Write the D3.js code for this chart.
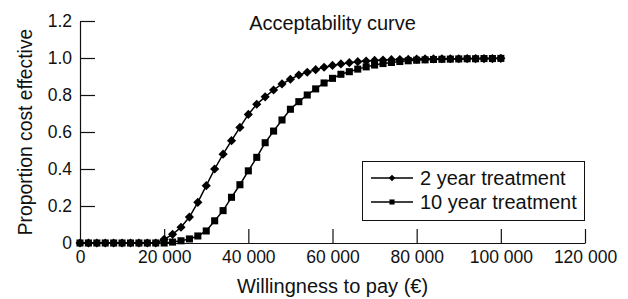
<!DOCTYPE html>
<html>
<head>
<meta charset="utf-8">
<script src="https://cdn.jsdelivr.net/npm/d3@7"></script>
<style>
  body { margin: 0; background: #fff; }
  text { font-family: "Liberation Sans", Arial, sans-serif; fill: #111; }
  .axis path, .axis line { stroke: #111; stroke-width: 1.2; }
</style>
</head>
<body>
<script>
(function () {

    //willingness to pay values (euro)
    var wtp = [0, 2000, 4000, 6000, 8000, 10000, 12000, 14000, 16000, 18000,
        20000, 22000, 24000, 26000, 28000, 30000, 32000, 34000, 36000, 38000,
        40000, 42000, 44000, 46000, 48000, 50000, 52000, 54000, 56000, 58000,
        60000, 62000, 64000, 66000, 68000, 70000, 72000, 74000, 76000, 78000,
        80000, 82000, 84000, 86000, 88000, 90000, 92000, 94000, 96000, 98000, 100000];

    //proportion cost effective, 2 year treatment
    var twoYear = [0, 0, 0, 0, 0, 0, 0, 0, 0, 0,
        0.02, 0.047, 0.085, 0.14, 0.22, 0.31, 0.40, 0.48, 0.553, 0.625,
        0.695, 0.75, 0.79, 0.827, 0.86, 0.885, 0.908, 0.923, 0.937, 0.95,
        0.96, 0.968, 0.975, 0.98, 0.984, 0.987, 0.989, 0.991, 0.992, 0.993,
        0.994, 0.995, 0.995, 0.996, 0.996, 0.996, 0.997, 0.997, 0.997, 0.997, 0.998];

    //proportion cost effective, 10 year treatment
    var tenYear = [0, 0, 0, 0, 0, 0, 0, 0, 0, 0,
        0, 0.005, 0.012, 0.022, 0.038, 0.065, 0.12, 0.175, 0.247, 0.315,
        0.39, 0.463, 0.542, 0.605, 0.665, 0.723, 0.764, 0.80, 0.833, 0.865,
        0.89, 0.912, 0.926, 0.94, 0.952, 0.962, 0.97, 0.976, 0.981, 0.985,
        0.988, 0.99, 0.992, 0.993, 0.994, 0.995, 0.996, 0.996, 0.997, 0.997, 0.998];

    var seriesNames = ["2 year treatment", "10 year treatment"];
    var xTicks = [0, 20000, 40000, 60000, 80000, 100000, 120000];
    var yTicks = [0, 0.2, 0.4, 0.6, 0.8, 1.0, 1.2];

    var width = 628, height = 299;
    var left = 80, right = 585, top = 21, bottom = 243;

    var svg = d3.select("body").append("svg")
        .attr("width", width)
        .attr("height", height);

    var x = d3.scaleLinear().domain([0, 120000]).range([left, right]);
    var y = d3.scaleLinear().domain([0, 1.2]).range([bottom, top]);

    var fmtX = function (d) { return d === 0 ? "0" : d3.format(",")(d).replace(/,/g, " "); };
    var fmtY = function (d) { return d === 0 ? "0" : d3.format(".1f")(d); };

    //x axis, ticks pointing up into the plot
    var xAxis = svg.append("g")
        .attr("class", "axis")
        .attr("transform", "translate(0," + bottom + ")")
        .call(d3.axisBottom(x).tickValues(xTicks).tickSizeInner(-14).tickSizeOuter(0).tickPadding(8).tickFormat(fmtX));
    xAxis.selectAll("text").style("font-size", "17.5px").attr("fill", "#111");
    xAxis.select(".tick line").remove();

    //y axis, ticks pointing right into the plot
    var yAxis = svg.append("g")
        .attr("class", "axis")
        .attr("transform", "translate(" + left + ",0)")
        .call(d3.axisLeft(y).tickValues(yTicks).tickSizeInner(-15).tickSizeOuter(0).tickPadding(8).tickFormat(fmtY));
    yAxis.selectAll("text").style("font-size", "17.5px").attr("fill", "#111");

    //titles
    svg.append("text")
        .attr("x", (left + right) / 2).attr("y", 30)
        .attr("text-anchor", "middle")
        .style("font-size", "20px")
        .text("Acceptability curve");

    svg.append("text")
        .attr("x", (left + right) / 2).attr("y", 293)
        .attr("text-anchor", "middle")
        .style("font-size", "20px")
        .text("Willingness to pay (\u20ac)");

    svg.append("text")
        .attr("transform", "translate(32," + (top + bottom) / 2 + ") rotate(-90)")
        .attr("text-anchor", "middle")
        .style("font-size", "19.3px")
        .text("Proportion cost effective");

    var line = d3.line()
        .x(function (d, i) { return x(wtp[i]); })
        .y(function (d) { return y(d); });

    var diamond = d3.symbol().type(d3.symbolSquare).size(42);
    var square = d3.symbol().type(d3.symbolSquare).size(50);

    //10 year series
    svg.append("path").datum(tenYear)
        .attr("fill", "none").attr("stroke", "#000").attr("stroke-width", 1.5)
        .attr("d", line);
    svg.selectAll(".sq").data(tenYear).enter().append("path")
        .attr("class", "sq")
        .attr("transform", function (d, i) { return "translate(" + x(wtp[i]) + "," + y(d) + ")"; })
        .attr("d", square)
        .attr("fill", "#000");

    //2 year series
    svg.append("path").datum(twoYear)
        .attr("fill", "none").attr("stroke", "#000").attr("stroke-width", 1.5)
        .attr("d", line);
    svg.selectAll(".dm").data(twoYear).enter().append("path")
        .attr("class", "dm")
        .attr("transform", function (d, i) { return "translate(" + x(wtp[i]) + "," + y(d) + ") rotate(45)"; })
        .attr("d", diamond)
        .attr("fill", "#000");

    //legend
    var legend = svg.append("g");
    legend.append("rect")
        .attr("x", 362.5).attr("y", 161.5).attr("width", 222).attr("height", 59)
        .attr("fill", "#fff").attr("stroke", "#111").attr("stroke-width", 1);

    var rows = legend.selectAll(".row").data(seriesNames).enter().append("g")
        .attr("class", "row")
        .attr("transform", function (d, i) { return "translate(0," + (178 + i * 24) + ")"; });
    rows.append("line")
        .attr("x1", 371).attr("x2", 413)
        .attr("stroke", "#000").attr("stroke-width", 1.5);
    rows.append("path")
        .attr("transform", function (d, i) { return "translate(392,0)" + (i === 0 ? " rotate(45)" : ""); })
        .attr("d", function (d, i) { return d3.symbol().type(d3.symbolSquare).size(i === 0 ? 22 : 26)(); })
        .attr("fill", "#000");
    rows.append("text")
        .attr("x", 420).attr("dy", "0.36em")
        .style("font-size", "20px")
        .text(function (d) { return d; });

})();
</script>
</body>
</html>
